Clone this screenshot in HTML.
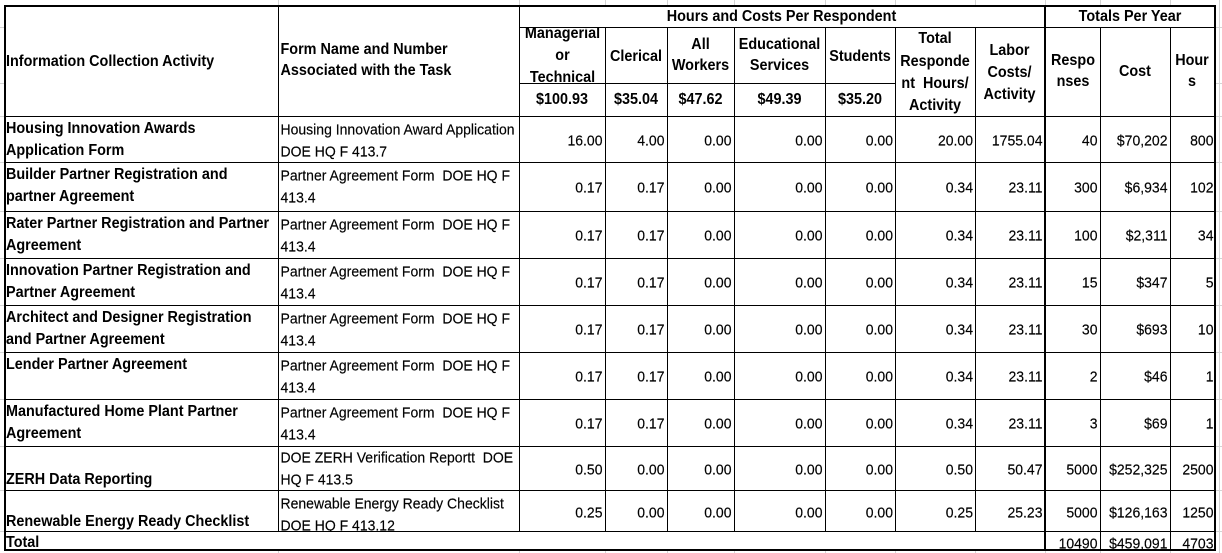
<!DOCTYPE html>
<html><head><meta charset="utf-8">
<style>
body{margin:0;background:#fff}
#c{position:relative;width:1222px;height:553px;overflow:hidden;background:#fff;font-family:"Liberation Sans",Arial,sans-serif;color:#000}
.g,.k,.t,.w,.row,.n,.clip{position:absolute}
.g{background:#d4d4d4}
.k{background:#000}
.w{background:#fff}
.t{white-space:nowrap;line-height:22px;font-size:14px;-webkit-text-stroke:0.15px #000}
.t>div{transform:scaleY(1.06)}
.b{font-weight:bold;font-size:14.4px;-webkit-text-stroke:0}
.ce{text-align:center}
.row{left:0;width:1222px;height:22px}
.n{top:0;white-space:nowrap;line-height:22px;font-size:14px;text-align:right;transform:scaleY(1.06);-webkit-text-stroke:0.15px #000}
.c1{right:619.5px}.c2{right:557.5px}.c3{right:490.5px}.c4{right:399.5px}.c5{right:329px}
.c6{right:249px}.c7{right:179.5px}.c8{right:124.5px}.c9{right:54.5px}.c10{right:8.5px}
.clip{overflow:hidden}
</style></head><body>
<div id="c">
<!-- excel gridlines -->
<div class="g" style="left:278px;top:0;width:1px;height:553px"></div>
<div class="g" style="left:519px;top:0;width:1px;height:553px"></div>
<div class="g" style="left:605px;top:0;width:1px;height:553px"></div>
<div class="g" style="left:667px;top:0;width:1px;height:553px"></div>
<div class="g" style="left:734px;top:0;width:1px;height:553px"></div>
<div class="g" style="left:825px;top:0;width:1px;height:553px"></div>
<div class="g" style="left:895px;top:0;width:1px;height:553px"></div>
<div class="g" style="left:975px;top:0;width:1px;height:553px"></div>
<div class="g" style="left:1045px;top:0;width:1px;height:553px"></div>
<div class="g" style="left:1100px;top:0;width:1px;height:553px"></div>
<div class="g" style="left:1170px;top:0;width:1px;height:553px"></div>
<div class="g" style="left:1219px;top:0;width:1px;height:553px"></div>
<div class="g" style="left:0;top:27px;width:1222px;height:1px"></div>
<div class="g" style="left:0;top:83px;width:1222px;height:1px"></div>
<div class="g" style="left:0;top:116px;width:1222px;height:1px"></div>
<div class="g" style="left:0;top:162px;width:1222px;height:1px"></div>
<div class="g" style="left:0;top:211px;width:1222px;height:1px"></div>
<div class="g" style="left:0;top:258px;width:1222px;height:1px"></div>
<div class="g" style="left:0;top:305px;width:1222px;height:1px"></div>
<div class="g" style="left:0;top:352px;width:1222px;height:1px"></div>
<div class="g" style="left:0;top:399px;width:1222px;height:1px"></div>
<div class="g" style="left:0;top:446px;width:1222px;height:1px"></div>
<div class="g" style="left:0;top:490px;width:1222px;height:1px"></div>
<div class="g" style="left:0;top:531px;width:1222px;height:1px"></div>
<!-- table white fill -->
<div class="w" style="left:4px;top:5px;width:1212px;height:546px"></div>

<!-- thin horizontal lines -->
<div class="k" style="left:519px;top:27px;width:695px;height:1px"></div>
<div class="k" style="left:519px;top:83px;width:377px;height:1px"></div>
<div class="k" style="left:4px;top:116px;width:1212px;height:1px"></div>
<div class="k" style="left:4px;top:162px;width:1212px;height:1px"></div>
<div class="k" style="left:4px;top:211px;width:1212px;height:1px"></div>
<div class="k" style="left:4px;top:258px;width:1212px;height:1px"></div>
<div class="k" style="left:4px;top:305px;width:1212px;height:1px"></div>
<div class="k" style="left:4px;top:352px;width:1212px;height:1px"></div>
<div class="k" style="left:4px;top:399px;width:1212px;height:1px"></div>
<div class="k" style="left:4px;top:446px;width:1212px;height:1px"></div>
<div class="k" style="left:4px;top:490px;width:1212px;height:1px"></div>
<div class="k" style="left:4px;top:531px;width:1212px;height:1px"></div>
<!-- thin vertical lines -->
<div class="k" style="left:278px;top:5px;width:1px;height:526px"></div>
<div class="k" style="left:519px;top:5px;width:1px;height:526px"></div>
<div class="k" style="left:605px;top:27px;width:1px;height:504px"></div>
<div class="k" style="left:667px;top:27px;width:1px;height:504px"></div>
<div class="k" style="left:734px;top:27px;width:1px;height:504px"></div>
<div class="k" style="left:825px;top:27px;width:1px;height:504px"></div>
<div class="k" style="left:895px;top:27px;width:1px;height:504px"></div>
<div class="k" style="left:975px;top:27px;width:1px;height:504px"></div>
<div class="k" style="left:1100px;top:27px;width:1px;height:522px"></div>
<div class="k" style="left:1170px;top:27px;width:1px;height:522px"></div>

<!-- header text -->
<div class="t b" style="left:6px;top:50.7px"><div>Information Collection Activity</div></div>
<div class="t b" style="left:280.5px;top:39.7px;line-height:21.7px"><div>Form Name and Number</div><div>Associated with the Task</div></div>
<div class="t b ce" style="left:519px;width:525px;top:5.7px"><div>Hours and Costs Per Respondent</div></div>
<div class="t b ce" style="left:1046px;width:168px;top:5.7px"><div>Totals Per Year</div></div>
<div class="clip" style="left:520px;top:28px;width:85px;height:55px">
  <div class="t b ce" style="left:0;width:85px;top:-4.7px"><div>Managerial</div><div>or</div><div>Technical</div></div>
</div>
<div class="t b ce" style="left:605px;width:62px;top:45.7px"><div>Clerical</div></div>
<div class="t b ce" style="left:667px;width:67px;top:34.7px;line-height:21.6px"><div>All</div><div>Workers</div></div>
<div class="t b ce" style="left:734px;width:91px;top:34.7px;line-height:21.6px"><div>Educational</div><div>Services</div></div>
<div class="t b ce" style="left:825px;width:70px;top:45.7px"><div>Students</div></div>
<div class="t b ce" style="left:895px;width:80px;top:28.3px;line-height:22.2px"><div>Total</div><div>Responde</div><div>nt&nbsp; Hours/</div><div>Activity</div></div>
<div class="t b ce" style="left:975px;width:69px;top:39.7px"><div>Labor</div><div>Costs/</div><div>Activity</div></div>
<div class="t b ce" style="left:1046px;width:54px;top:50.7px;line-height:21.6px"><div>Respo</div><div>nses</div></div>
<div class="t b ce" style="left:1100px;width:70px;top:61.3px"><div>Cost</div></div>
<div class="t b ce" style="left:1170px;width:44px;top:50.7px;line-height:21.6px"><div>Hour</div><div>s</div></div>
<div class="t b ce" style="left:519px;width:86px;top:89px"><div>$100.93</div></div>
<div class="t b ce" style="left:605px;width:62px;top:89px"><div>$35.04</div></div>
<div class="t b ce" style="left:667px;width:67px;top:89px"><div>$47.62</div></div>
<div class="t b ce" style="left:734px;width:91px;top:89px"><div>$49.39</div></div>
<div class="t b ce" style="left:825px;width:70px;top:89px"><div>$35.20</div></div>

<!-- activity column -->
<div class="t b" style="left:6px;top:117.5px"><div>Housing Innovation Awards</div><div>Application Form</div></div>
<div class="t b" style="left:6px;top:163.5px"><div>Builder Partner Registration and</div><div>partner Agreement</div></div>
<div class="t b" style="left:6px;top:212.5px"><div>Rater Partner Registration and Partner</div><div>Agreement</div></div>
<div class="t b" style="left:6px;top:259.5px"><div>Innovation Partner Registration and</div><div>Partner Agreement</div></div>
<div class="t b" style="left:6px;top:306.5px"><div>Architect and Designer Registration</div><div>and Partner Agreement</div></div>
<div class="t b" style="left:6px;top:353.5px"><div>Lender Partner Agreement</div></div>
<div class="t b" style="left:6px;top:400.5px"><div>Manufactured Home Plant Partner</div><div>Agreement</div></div>
<div class="t b" style="left:6px;top:469px"><div>ZERH Data Reporting</div></div>
<div class="t b" style="left:6px;top:510.7px"><div>Renewable Energy Ready Checklist</div></div>
<div class="t b" style="left:6px;top:532.3px"><div>Total</div></div>

<!-- form column -->
<div class="t" style="left:280.5px;top:117.5px"><div>Housing Innovation Award Application</div><div>DOE HQ F 413.7</div></div>
<div class="t" style="left:280.5px;top:163.5px"><div>Partner Agreement Form&nbsp; DOE HQ F</div><div>413.4</div></div>
<div class="t" style="left:280.5px;top:212.5px"><div>Partner Agreement Form&nbsp; DOE HQ F</div><div>413.4</div></div>
<div class="t" style="left:280.5px;top:259.5px"><div>Partner Agreement Form&nbsp; DOE HQ F</div><div>413.4</div></div>
<div class="t" style="left:280.5px;top:306.5px"><div>Partner Agreement Form&nbsp; DOE HQ F</div><div>413.4</div></div>
<div class="t" style="left:280.5px;top:353.5px"><div>Partner Agreement Form&nbsp; DOE HQ F</div><div>413.4</div></div>
<div class="t" style="left:280.5px;top:400.5px"><div>Partner Agreement Form&nbsp; DOE HQ F</div><div>413.4</div></div>
<div class="t" style="left:280.5px;top:446.3px"><div>DOE ZERH Verification Reportt&nbsp; DOE</div><div>HQ F 413.5</div></div>
<div class="clip" style="left:279px;top:491px;width:240px;height:40px">
  <div class="t" style="left:1.5px;top:0.7px"><div>Renewable Energy Ready Checklist</div><div>DOE HQ F 413.12</div></div>
</div>

<!-- numeric rows -->
<div class="row" style="top:128.7px"><span class="n c1">16.00</span><span class="n c2">4.00</span><span class="n c3">0.00</span><span class="n c4">0.00</span><span class="n c5">0.00</span><span class="n c6">20.00</span><span class="n c7">1755.04</span><span class="n c8">40</span><span class="n c9">$70,202</span><span class="n c10">800</span></div>
<div class="row" style="top:176px"><span class="n c1">0.17</span><span class="n c2">0.17</span><span class="n c3">0.00</span><span class="n c4">0.00</span><span class="n c5">0.00</span><span class="n c6">0.34</span><span class="n c7">23.11</span><span class="n c8">300</span><span class="n c9">$6,934</span><span class="n c10">102</span></div>
<div class="row" style="top:224.2px"><span class="n c1">0.17</span><span class="n c2">0.17</span><span class="n c3">0.00</span><span class="n c4">0.00</span><span class="n c5">0.00</span><span class="n c6">0.34</span><span class="n c7">23.11</span><span class="n c8">100</span><span class="n c9">$2,311</span><span class="n c10">34</span></div>
<div class="row" style="top:271px"><span class="n c1">0.17</span><span class="n c2">0.17</span><span class="n c3">0.00</span><span class="n c4">0.00</span><span class="n c5">0.00</span><span class="n c6">0.34</span><span class="n c7">23.11</span><span class="n c8">15</span><span class="n c9">$347</span><span class="n c10">5</span></div>
<div class="row" style="top:318px"><span class="n c1">0.17</span><span class="n c2">0.17</span><span class="n c3">0.00</span><span class="n c4">0.00</span><span class="n c5">0.00</span><span class="n c6">0.34</span><span class="n c7">23.11</span><span class="n c8">30</span><span class="n c9">$693</span><span class="n c10">10</span></div>
<div class="row" style="top:365px"><span class="n c1">0.17</span><span class="n c2">0.17</span><span class="n c3">0.00</span><span class="n c4">0.00</span><span class="n c5">0.00</span><span class="n c6">0.34</span><span class="n c7">23.11</span><span class="n c8">2</span><span class="n c9">$46</span><span class="n c10">1</span></div>
<div class="row" style="top:412px"><span class="n c1">0.17</span><span class="n c2">0.17</span><span class="n c3">0.00</span><span class="n c4">0.00</span><span class="n c5">0.00</span><span class="n c6">0.34</span><span class="n c7">23.11</span><span class="n c8">3</span><span class="n c9">$69</span><span class="n c10">1</span></div>
<div class="row" style="top:457.5px"><span class="n c1">0.50</span><span class="n c2">0.00</span><span class="n c3">0.00</span><span class="n c4">0.00</span><span class="n c5">0.00</span><span class="n c6">0.50</span><span class="n c7">50.47</span><span class="n c8">5000</span><span class="n c9">$252,325</span><span class="n c10">2500</span></div>
<div class="row" style="top:500.5px"><span class="n c1">0.25</span><span class="n c2">0.00</span><span class="n c3">0.00</span><span class="n c4">0.00</span><span class="n c5">0.00</span><span class="n c6">0.25</span><span class="n c7">25.23</span><span class="n c8">5000</span><span class="n c9">$126,163</span><span class="n c10">1250</span></div>
<div class="row" style="top:531.7px"><span class="n c8">10490</span><span class="n c9">$459,091</span><span class="n c10">4703</span></div>

<!-- thick borders -->
<div class="k" style="left:4px;top:5px;width:1212px;height:2px"></div>
<div class="k" style="left:4px;top:5px;width:2px;height:546px"></div>
<div class="k" style="left:1214px;top:5px;width:2px;height:546px"></div>
<div class="k" style="left:4px;top:549px;width:1212px;height:2px"></div>
<div class="k" style="left:1044px;top:5px;width:2px;height:546px"></div>
</div>
</body></html>
